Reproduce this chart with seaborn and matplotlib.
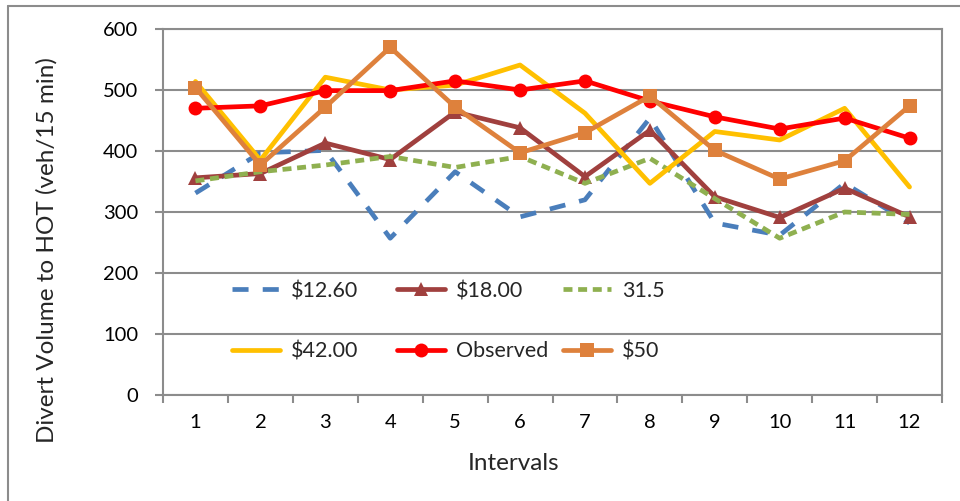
import matplotlib
matplotlib.use("Agg")
import matplotlib.pyplot as plt
import seaborn as sns
import pandas as pd
from matplotlib.lines import Line2D
from matplotlib.ticker import FixedLocator

intervals = list(range(1, 13))
s1260 = [331, 397, 401, 257, 366, 292, 320, 454, 282, 262, 347, 282]
s1800 = [356, 363, 413, 386, 464, 438, 358, 434, 325, 291, 339, 292]
s315 = [351, 366, 377, 391, 373, 391, 347, 388, 322, 257, 300, 296]
s4200 = [514, 385, 521, 500, 508, 541, 462, 347, 432, 418, 470, 341]
observed = [470, 474, 499, 499, 515, 500, 515, 482, 456, 436, 454, 421]
s50 = [504, 377, 472, 570, 472, 397, 430, 490, 401, 354, 384, 474]
series_names = ["$12.60", "$18.00", "31.5", "$42.00", "Observed", "$50"]
y_ticks = [0, 100, 200, 300, 400, 500, 600]

sns.set_theme(style="white")
plt.rcParams['font.family'] = ['Lato', 'DejaVu Sans']

fig = plt.figure(figsize=(9.6, 5.01), dpi=100)
ax = fig.add_axes([163/960, 106/501, 779/960, 366/501])

styles = [
    dict(color="#4A7EBB", linestyle=(0, (3.4, 3.0)), marker=None),
    dict(color="#A0403E", linestyle="-", marker="^"),
    dict(color="#8FB050", linestyle=(0, (1.9, 1.2)), marker=None),
    dict(color="#FFC000", linestyle="-", marker=None),
    dict(color="#FF0000", linestyle="-", marker="o"),
    dict(color="#DE813C", linestyle="-", marker="s"),
]
all_vals = [s1260, s1800, s315, s4200, observed, s50]

handles = []
for name, vals, st in zip(series_names, all_vals, styles):
    df = pd.DataFrame({"Interval": intervals, "Volume": vals})
    sns.lineplot(data=df, x="Interval", y="Volume", ax=ax, color=st["color"],
                 linestyle=st["linestyle"], marker=st["marker"], markersize=10,
                 markeredgewidth=0, linewidth=3.4, label=name, legend=False)
    handles.append(ax.get_lines()[-1])

ax.set_xlim(0.5, 12.5)
ax.set_ylim(0, 600)
ax.set_xticks(intervals)
ax.set_xticklabels([str(i) for i in intervals])
ax.xaxis.set_minor_locator(FixedLocator([i + 0.5 for i in range(0, 13)]))
ax.set_yticks(y_ticks)
ax.yaxis.grid(True, color="#8c8c8c", linewidth=1.5)
ax.set_axisbelow(True)
for sp in ax.spines.values():
    sp.set_color("#8c8c8c")
    sp.set_linewidth(1.5)
ax.tick_params(axis="x", which="major", length=0, pad=14, labelsize=14.5, colors="black")
ax.tick_params(axis="x", which="minor", length=6, width=1.5, color="#8c8c8c", direction="out", bottom=True)
ax.tick_params(axis="y", which="major", length=6, width=1.5, color="#8c8c8c", direction="out",
               pad=12, labelsize=14.5, labelcolor="black", left=True)

ax.set_xlabel("Intervals", fontsize=17.5)
ax.set_ylabel("Divert Volume to HOT (veh/15 min)", fontsize=17.5)
ax.xaxis.set_label_coords((514-163)/779, (395-453)/366)
ax.yaxis.set_label_coords((58-163)/779, (395-250)/366)

# legend in three columns of equal width
col_x = [232, 397, 563]
leg_top = 281
for c in range(3):
    hs = [handles[c], handles[c + 3]]
    leg = ax.legend(hs, [h.get_label() for h in hs],
                    loc="upper left",
                    bbox_to_anchor=((col_x[c]-163)/779, (395-leg_top)/366),
                    frameon=False, fontsize=15.5, handlelength=2.23, handletextpad=0.53,
                    labelspacing=1.88, borderpad=0, borderaxespad=0)
    if c < 2:
        ax.add_artist(leg)

# outer chart border (left and top visible)
fig.add_artist(Line2D([8/960, 8/960], [0, 1 - 6/501], transform=fig.transFigure,
                      color="#8c8c8c", linewidth=1.5))
fig.add_artist(Line2D([8/960, 1], [1 - 6/501, 1 - 6/501], transform=fig.transFigure,
                      color="#8c8c8c", linewidth=1.5))

fig.savefig("out.png", dpi=100)
